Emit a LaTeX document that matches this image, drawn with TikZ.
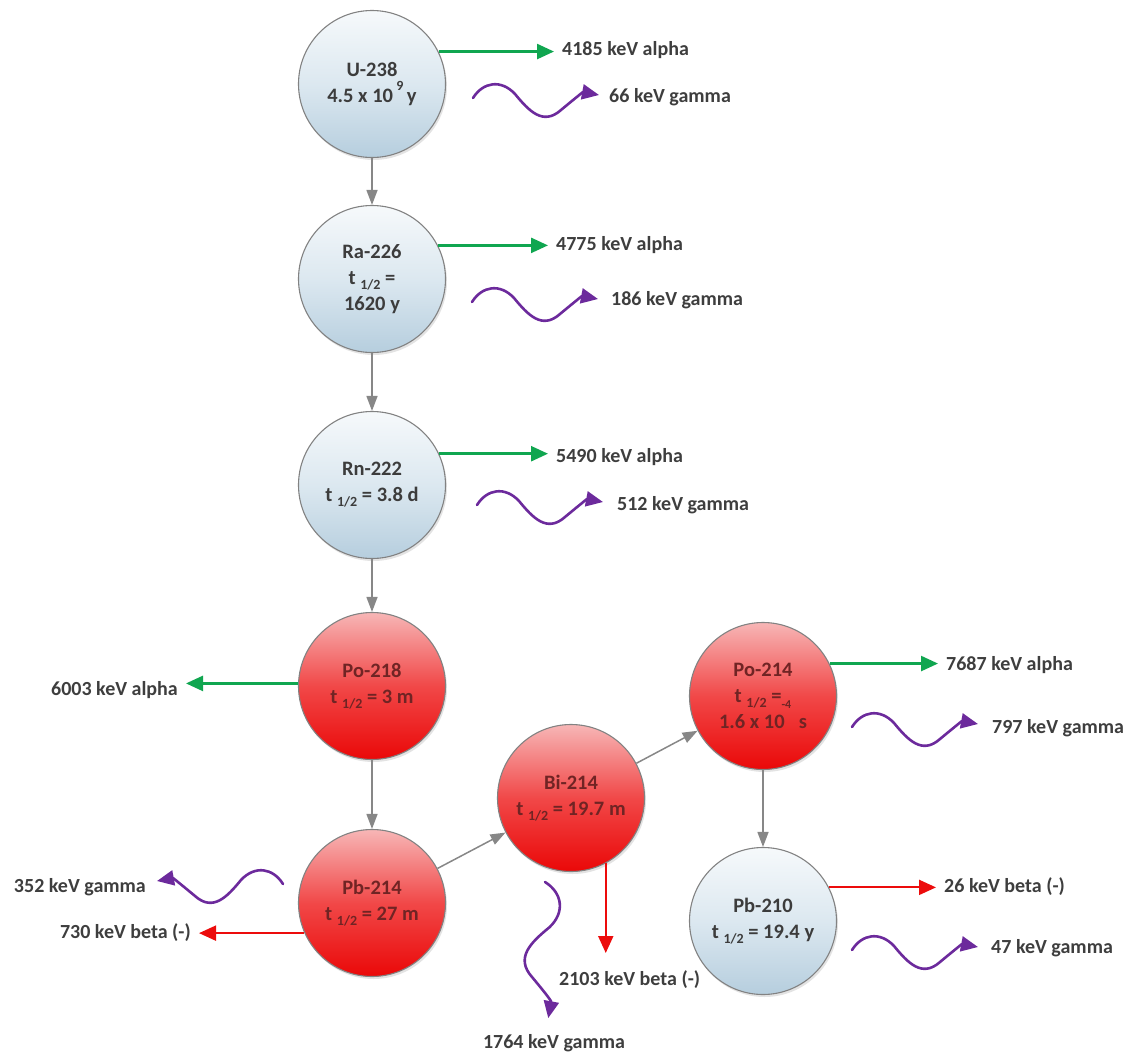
\documentclass[tikz,border=0pt]{standalone}
\usepackage{fontspec}
\setmainfont{Carlito}
\usetikzlibrary{arrows.meta,shadows}
\definecolor{agreen}{RGB}{16,166,80}
\definecolor{bred}{RGB}{236,12,12}
\definecolor{gpurple}{RGB}{108,42,156}
\definecolor{lnk}{RGB}{135,135,135}
\definecolor{lbltext}{RGB}{62,62,62}
\definecolor{bluetext}{RGB}{60,60,60}
\definecolor{redtext}{RGB}{112,36,36}
\definecolor{btop}{RGB}{246,249,251}
\definecolor{bmid}{RGB}{220,232,240}
\definecolor{bbot}{RGB}{182,206,222}
\definecolor{rtop}{RGB}{247,182,182}
\definecolor{rmid}{RGB}{241,72,72}
\definecolor{rbot}{RGB}{234,8,8}
\definecolor{rim}{RGB}{130,130,130}
\newcommand{\thalf}{t\ \raisebox{-5pt}{\fontsize{14}{14}\selectfont 1/2}}
\begin{document}
\begin{tikzpicture}[x=1pt,y=-1pt,
  nuc/.style={circle, minimum size=147pt, inner sep=0pt, draw=rim, line width=1.1pt,
    align=center, font=\fontsize{20.5}{26}\selectfont\bfseries,
    drop shadow={opacity=0.22, shadow xshift=1.5pt, shadow yshift=-2.5pt}},
  bluenuc/.style={nuc, top color=btop, bottom color=bbot, middle color=bmid, text=bluetext},
  rednuc/.style={nuc, top color=rtop, bottom color=rbot, middle color=rmid, text=redtext},
  lbl/.style={font=\fontsize{20}{24}\selectfont\bfseries, text=lbltext, inner sep=2pt},
  chain/.style={draw=lnk, line width=1.5pt, -{Triangle[length=15pt,width=11pt]}},
  alpharr/.style={draw=agreen, line width=2.5pt, -{Triangle[length=17pt,width=15pt]}, shorten >=6pt},
  betarr/.style={draw=bred, line width=2pt, -{Triangle[length=17pt,width=15pt]}, shorten >=6pt},
  gam/.style={draw=gpurple, line width=2.6pt, line cap=round, -{Triangle[length=17pt,width=15pt]}},
  gwave/.pic={\draw[gam] (0,0) .. controls (10,-16) and (28,-19) .. (42,-4)
     .. controls (56,13) and (70,28) .. (88,12) .. controls (100,2) and (110,-6) .. (126,-3);}
]
\useasboundingbox (0,0) rectangle (1130,1055);

% nuclides
\node[bluenuc] (u238) at (372,84) {U-238\\4.5 x 10\,\raisebox{12pt}{\fontsize{14}{14}\selectfont 9}\,y};
\node[bluenuc] (ra226) at (372,279) {Ra-226\\\thalf\ =\\1620 y};
\node[bluenuc] (rn222) at (372,485) {Rn-222\\\thalf\ = 3.8 d};
\node[rednuc] (po218) at (372,686) {Po-218\\\thalf\ = 3 m};
\node[rednuc] (pb214) at (372,903) {Pb-214\\\thalf\ = 27 m};
\node[rednuc] (bi214) at (571,798) {Bi-214\\\thalf\ = 19.7 m};
\node[rednuc] (po214) at (763,696) {Po-214\\\thalf\ =\raisebox{-6pt}{\fontsize{12}{12}\selectfont -4}\\1.6 x 10\hspace{14pt}s};
\node[bluenuc] (pb210) at (763,921) {Pb-210\\\thalf\ = 19.4 y};

% decay chain
\draw[chain] (u238) -- (ra226);
\draw[chain] (ra226) -- (rn222);
\draw[chain] (rn222) -- (po218);
\draw[chain] (po218) -- (pb214);
\draw[chain] (pb214) -- (bi214);
\draw[chain] (bi214) -- (po214);
\draw[chain] (po214) -- (pb210);

% alpha labels and arrows
\node[lbl, anchor=west] (a1) at (560,50) {4185 keV alpha};
\node[lbl, anchor=west] (a2) at (554,245) {4775 keV alpha};
\node[lbl, anchor=west] (a3) at (554,457) {5490 keV alpha};
\node[lbl, anchor=east] (a4) at (180,690) {6003 keV alpha};
\node[lbl, anchor=west] (a5) at (944,665) {7687 keV alpha};
\draw[alpharr] (u238.26) -- (u238.26 -| a1.west);
\draw[alpharr] (ra226.27.5) -- (ra226.27.5 -| a2.west);
\draw[alpharr] (rn222.25) -- (rn222.25 -| a3.west);
\draw[alpharr] (po218.178) -- (po218.178 -| a4.east);
\draw[alpharr] (po214.26.7) -- (po214.26.7 -| a5.west);

% beta labels and arrows
\node[lbl, anchor=east] (b1) at (193,933) {730 keV beta (-)};
\node[lbl, anchor=west] (b2) at (557,980) {2103 keV beta (-)};
\node[lbl, anchor=west] (b3) at (942,887) {26 keV beta (-)};
\coordinate (b2end) at (605,959);
\draw[betarr] (pb214.204) -- (pb214.204 -| b1.east);
\draw[betarr] (bi214.-62.4) -- (bi214.-62.4 |- b2end);
\draw[betarr] (pb210.27.5) -- (pb210.27.5 -| b3.west);

% gamma labels and waves
\node[lbl, anchor=west] (c1) at (607,97) {66 keV gamma};
\node[lbl, anchor=west] (c2) at (609,300) {186 keV gamma};
\node[lbl, anchor=west] (c3) at (615,505) {512 keV gamma};
\node[lbl, anchor=west] (c4) at (990,728) {797 keV gamma};
\node[lbl, anchor=west] (c5) at (989,948) {47 keV gamma};
\node[lbl, anchor=east] (c6) at (148,887) {352 keV gamma};
\node[lbl] (c7) at (554,1043) {1764 keV gamma};
\coordinate (g1) at (473,98);
\coordinate (g2) at (472,302);
\coordinate (g3) at (477,505);
\coordinate (g4) at (852,727);
\coordinate (g5) at (852,950);
\coordinate (g6) at (283,884);
\coordinate (g7) at (545,882);
\pic at (g1) {gwave};
\pic at (g2) {gwave};
\pic at (g3) {gwave};
\pic at (g4) {gwave};
\pic at (g5) {gwave};
\pic[xscale=-1] at (g6) {gwave};
\pic[rotate=-90, scale=1.08] at (g7) {gwave};
\end{tikzpicture}
\end{document}
